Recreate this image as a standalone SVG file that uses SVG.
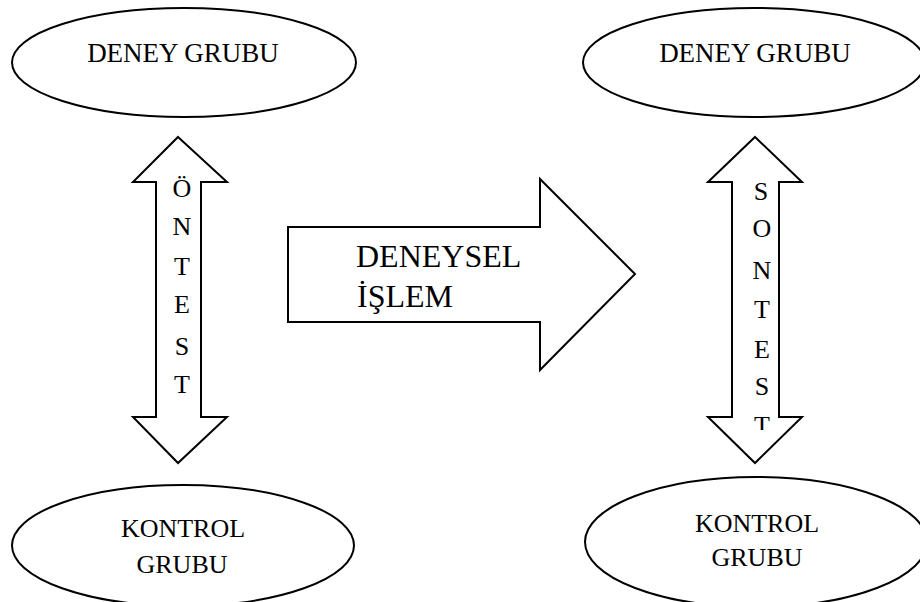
<svg xmlns="http://www.w3.org/2000/svg" width="920" height="602" viewBox="0 0 920 602">
<defs>
<style>
.sh{fill:#fff;stroke:#000;stroke-width:2;stroke-linejoin:miter}
text{font-family:'Liberation Serif','Tinos','Times New Roman','DejaVu Serif',serif;fill:#000}
.g{font-size:27px;text-anchor:middle}
.k{font-size:26px;text-anchor:middle}
.v{font-size:26px;text-anchor:middle}
.b{font-size:32px}
</style>
<clipPath id="clipR"><rect x="700" y="150" width="120" height="280"/></clipPath>
</defs>
<rect width="920" height="602" fill="#fff"/>
<g id="deney-on">
<ellipse class="sh" cx="184" cy="62.5" rx="172" ry="54.5"/>
<text class="g" x="183" y="62">DENEY GRUBU</text>
</g>
<g id="deney-son">
<ellipse class="sh" cx="754" cy="62.5" rx="171" ry="54.5"/>
<text class="g" x="755" y="62">DENEY GRUBU</text>
</g>
<g id="kontrol-on">
<ellipse class="sh" cx="183" cy="545.5" rx="171" ry="60.5"/>
<text class="k" x="183" y="537">KONTROL</text>
<text class="k" x="182" y="573">GRUBU</text>
</g>
<g id="kontrol-son">
<ellipse class="sh" cx="756" cy="542" rx="171" ry="65"/>
<text class="k" x="757" y="532">KONTROL</text>
<text class="k" x="757" y="566">GRUBU</text>
</g>
<g id="connectors">
<g id="ontest">
<path class="sh" d="M178,137 L227,182 L201,182 L201,417 L227,417 L178,463 L133,417 L156,417 L156,182 L133,182 Z"/>
<text class="v" x="182" y="197">Ö</text>
<text class="v" x="182" y="235">N</text>
<text class="v" x="182" y="275">T</text>
<text class="v" x="182" y="313">E</text>
<text class="v" x="182" y="355">S</text>
<text class="v" x="182" y="393">T</text>
</g>
<g id="sontest">
<path class="sh" d="M755,137 L802,182 L779,182 L779,417 L802,417 L755,463 L708,417 L732,417 L732,182 L708,182 Z"/>
<g clip-path="url(#clipR)">
<text class="v" x="761" y="200">S</text>
<text class="v" x="762" y="237">O</text>
<text class="v" x="762" y="279">N</text>
<text class="v" x="762" y="318">T</text>
<text class="v" x="762" y="358">E</text>
<text class="v" x="762" y="395">S</text>
<text class="v" x="762" y="434">T</text>
</g>
</g>
<g id="deneysel-islem">
<path class="sh" d="M288,227 L540,227 L540,179 L635,274 L540,370 L540,322 L288,322 Z"/>
<text class="b" x="356" y="267">DENEYSEL</text>
<text class="b" x="357" y="307">İŞLEM</text>
</g>
</g>
</svg>
